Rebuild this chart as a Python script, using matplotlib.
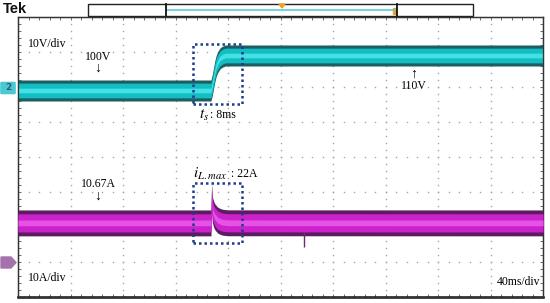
import matplotlib
matplotlib.use("Agg")
import matplotlib.pyplot as plt
import numpy as np
from matplotlib.patches import Rectangle, Polygon, FancyBboxPatch

# ---------------- data ----------------
# time base: 40 ms/div, 10 divisions
v_time_ms = [0, 147, 148, 149, 150, 151, 152, 154, 156, 158, 160, 400]
v_mean = [100, 100, 101.5, 103.5, 105.5, 107, 108, 109.2, 109.7, 110, 110, 110]
v_ripple_pp = 6.0          # V peak-to-peak of the noisy band

i_time_ms = [0, 147, 147.5, 148, 149, 150, 152, 154, 156, 160, 400]
i_mean = [10.67, 10.67, 18.3, 14.6, 13.2, 12.4, 11.5, 11.1, 10.85, 10.7, 10.67]
i_ripple_pp = 7.4          # A peak-to-peak of the noisy band
i_glitch_ms = [218]
i_glitch_low = [3.8]

V_PER_DIV = 10
A_PER_DIV = 10
MS_PER_DIV = 40
V_CENTER = 81.0            # volts at graticule centre line
I_CENTER = 29.5            # amps at graticule centre line

W, H = 550, 303
fig = plt.figure(figsize=(W / 100, H / 100), dpi=100)
fig.patch.set_facecolor("white")

def fx(px):
    return px / W

def fy(py):
    return 1 - py / H

L, T, R, B = 18, 17, 543, 297
ax = fig.add_axes([fx(L), fy(B), fx(R - L), (B - T) / H])
ax.set_xlim(0, 10 * MS_PER_DIV)
ax.set_ylim(V_CENTER - 4 * V_PER_DIV, V_CENTER + 4 * V_PER_DIV)
axi = ax.twinx()
axi.set_ylim(I_CENTER - 4 * A_PER_DIV, I_CENTER + 4 * A_PER_DIV)

# graticule dots
gx = np.arange(0, 10 * MS_PER_DIV + 1, MS_PER_DIV)
gy = np.arange(-4, 5, 1)
sub_x = np.arange(0, 10 * MS_PER_DIV + 0.1, MS_PER_DIV / 5)
sub_y = np.arange(-4, 4.01, 0.2)
for x in gx[1:-1]:
    ax.plot(np.full_like(sub_y, x), V_CENTER + sub_y * V_PER_DIV, ls="none",
            marker="s", ms=1.0, color="#a5a5a5", mew=0)
for y in gy[1:-1]:
    ax.plot(sub_x, np.full_like(sub_x, V_CENTER + y * V_PER_DIV), ls="none",
            marker="s", ms=1.0, color="#a5a5a5", mew=0)

# voltage trace (band)
vt = np.array(v_time_ms, float)
vm = np.array(v_mean, float)
h = v_ripple_pp / 2
ax.fill_between(vt, vm - h, vm + h, color="#1d5f60", lw=0, zorder=3)
ax.fill_between(vt, vm - h * 0.7, vm + h * 0.7, color="#12bec4", lw=0, zorder=4)
ax.fill_between(vt, vm - h * 0.22, vm + h * 0.22, color="#45e0e4", lw=0, zorder=5)

# current trace (band)
it = np.array(i_time_ms, float)
im = np.array(i_mean, float)
hi = i_ripple_pp / 2
axi.fill_between(it, im - hi, im + hi, color="#5c1c60", lw=0, zorder=3)
axi.fill_between(it, im - hi * 0.7, im + hi * 0.7, color="#cc22cc", lw=0, zorder=4)
axi.fill_between(it, im - hi * 0.22, im + hi * 0.22, color="#e552e5", lw=0, zorder=5)
for t, lo in zip(i_glitch_ms, i_glitch_low):
    axi.vlines(t, lo, i_mean[-1], color="#6a2a6e", lw=1, zorder=3)

# frame
for a in (ax, axi):
    a.set_yticks([])
    a.set_xticks([])
    for s in a.spines.values():
        s.set_color("#333333")
        s.set_linewidth(0.9)
ax.spines["bottom"].set_linewidth(1.8)
ax.spines["bottom"].set_color("#111111")
ax.set_xticks(sub_x, minor=True)
ax.set_yticks(V_CENTER + sub_y * V_PER_DIV, minor=True)
ax.tick_params(which="minor", direction="in", length=2.5, width=0.6, color="#555555",
               top=True, right=True, labelbottom=False, labelleft=False)
ax.set_zorder(2)
axi.set_zorder(3)
axi.patch.set_visible(False)

# dotted boxes
box_kw = dict(fill=False, ec="#1f3c8c", lw=1.8, ls=(0, (1, 1.2)), zorder=10)
ax.add_patch(Rectangle((133, 96.2), 38, 17.1, **box_kw))
axi.add_patch(Rectangle((133, 4.9), 38, 17.2, **box_kw))

# top record bar
fig.add_artist(Rectangle((fx(88), fy(16)), fx(473 - 88), (16 - 4) / H, fill=False,
                         ec="#222222", lw=1.0))
fig.add_artist(plt.Line2D([fx(166), fx(395)], [fy(10), fy(10)], color="#5cc8d8", lw=1.2))
fig.add_artist(plt.Line2D([fx(166), fx(166)], [fy(4), fy(16)], color="#111111", lw=1.3))
fig.add_artist(plt.Line2D([fx(397), fx(397)], [fy(4), fy(16)], color="#111111", lw=1.3))
fig.add_artist(Polygon([[fx(279), fy(4)], [fx(285), fy(4)], [fx(282), fy(8)]],
                       color="#f0a020"))
fig.add_artist(Polygon([[fx(279), fy(21)], [fx(285), fy(21)], [fx(282), fy(17)]],
                       color="#f0a020"))
fig.add_artist(Rectangle((fx(393), fy(14)), fx(3), 6 / H, color="#f0a020"))

# channel markers
fig.add_artist(FancyBboxPatch((fx(2), fy(93)), fx(12), 10 / H,
                              boxstyle="round,pad=0.002", color="#49c9d4"))
fig.text(fx(8), fy(88), "2", ha="center", va="center", fontsize=6.5,
         color="#2d5c66", family="DejaVu Sans", fontweight="bold")
fig.add_artist(Polygon([[fx(1), fy(257)], [fx(11), fy(257)], [fx(16), fy(262.5)],
                        [fx(11), fy(268)], [fx(1), fy(268)]], color="#a472ac"))

# texts
serif = ["Liberation Serif", "DejaVu Serif"]
plt.rcParams["mathtext.fontset"] = "stix"
fig.text(fx(3), fy(9), "Tek", ha="left", va="center", fontsize=10.5,
         fontweight="bold", family="Liberation Sans", color="#111111")
fig.text(fx(28), fy(44), "10V/div", ha="left", va="center", fontsize=8.5, family=serif)
fig.text(fx(98), fy(57), "100V", ha="center", va="center", fontsize=8.5, family=serif)
fig.text(fx(98), fy(68), "\u2193", ha="center", va="center", fontsize=10, family=serif)
fig.text(fx(414), fy(86), "110V", ha="center", va="center", fontsize=8.5, family=serif)
fig.text(fx(414), fy(74), "\u2191", ha="center", va="center", fontsize=10, family=serif)
fig.text(fx(204), fy(115), r"$t_s$", ha="center", va="center", fontsize=11, family=serif)
fig.text(fx(210), fy(115), ": 8ms", ha="left", va="center", fontsize=8.5, family=serif)
fig.text(fx(210), fy(174), r"$\boldsymbol{i_{L.max}}$", ha="center", va="center",
         fontsize=11, family=serif)
fig.text(fx(231), fy(174), ": 22A", ha="left", va="center", fontsize=8.5, family=serif)
fig.text(fx(98), fy(184), "10.67A", ha="center", va="center", fontsize=8.5, family=serif)
fig.text(fx(98), fy(196), "\u2193", ha="center", va="center", fontsize=10, family=serif)
fig.text(fx(28), fy(278), "10A/div", ha="left", va="center", fontsize=8.5, family=serif)
fig.text(fx(540), fy(282), "40ms/div", ha="right", va="center", fontsize=8.5, family=serif)

fig.savefig("out.png", dpi=100, facecolor="white")
